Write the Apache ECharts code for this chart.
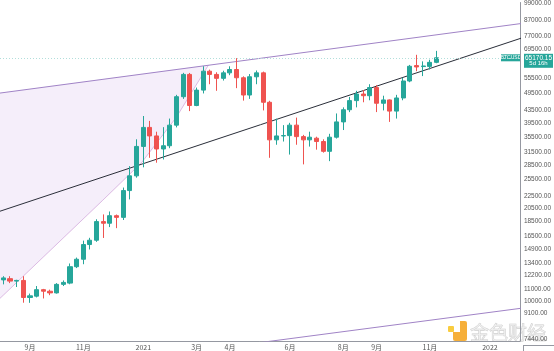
<!DOCTYPE html>
<html>
<head>
<meta charset="utf-8">
<script src="https://cdn.jsdelivr.net/npm/echarts@6/dist/echarts.min.js"></script>
<style>
  html, body { margin: 0; padding: 0; background: #fff; }
  #chart { width: 554px; height: 351px; }
</style>
</head>
<body>
<div id="chart"></div>
<script>
// BTCUSD weekly candles, first week starts 2020-08-10
const firstWeek = '2020-08-10';
const weekCount = 78; // includes empty weeks on the right side

const opens = [11790, 11900, 11680, 11740, 10294, 10403, 10935, 10804, 10666, 11390,
  11502, 13049, 13820, 15477, 16000, 18469, 18234, 19325, 19079, 23449,
  26262, 32940, 38138, 35713, 32300, 33115, 38807, 48308, 57343, 45134,
  50815, 58790, 57343, 55637, 58040, 59550, 55889, 48932, 56313, 58040,
  46273, 34650, 35713, 35800, 38807, 35525, 34650, 35098, 34208, 31720,
  35365, 39786, 43692, 46871, 49303, 48674, 51823, 45925, 47119, 43233,
  47836, 54513, 61376, 60915, 61000, 62926];
const closes = [11970, 11680, 11740, 10294, 10427, 10935, 10804, 10666, 11390, 11563,
  13049, 13820, 15477, 16000, 18469, 18234, 19325, 19079, 23449, 26262,
  32940, 38138, 35713, 32300, 33115, 38807, 48308, 57343, 45134, 50815,
  58790, 57343, 55637, 58040, 59550, 55889, 48932, 56313, 58040, 46273,
  34650, 35713, 35800, 38807, 35525, 34650, 35365, 34208, 31720, 35365,
  39786, 43692, 46871, 49303, 48674, 51823, 45925, 47119, 43233, 47836,
  54513, 61053, 60731, 61191, 62926, 65170.15];
const lows = [11390, 11500, 11160, 9890, 9880, 10300, 10217, 10480, 10610, 11245,
  11400, 12912, 13300, 14900, 15800, 16281, 17700, 17558, 18694, 21908,
  25900, 28045, 30177, 29059, 29792, 32500, 38138, 47500, 43233, 44900,
  49527, 53171, 50548, 54700, 57000, 51589, 46871, 47500, 53171, 43462,
  30177, 33366, 34208, 30939, 33366, 28688, 32900, 32130, 31400, 29412,
  35000, 37368, 42900, 44500, 46273, 47000, 42907, 43462, 39786, 40821,
  47000, 54000, 58790, 56612, 59550, 62500];
const highs = [12130, 12130, 11800, 12130, 10610, 11245, 11000, 10935, 11500, 11740,
  13378, 14000, 15952, 16300, 18800, 19516, 19963, 19500, 24000, 28300,
  34800, 41630, 40088, 36892, 38200, 40821, 49000, 58040, 58000, 51823,
  61053, 59500, 58300, 59000, 61053, 65002, 56500, 57500, 59102, 58600,
  46800, 40800, 38807, 39500, 41130, 36000, 36900, 35500, 34800, 36300,
  42455, 44500, 48200, 50548, 50815, 53171, 52800, 48674, 47300, 49000,
  55889, 61700, 66693, 63402, 64222, 68741];

// price scale labels
const priceTicks = [99000, 87000, 77000, 69500, 55500, 49500, 43500, 39500, 35500, 31500,
  28500, 25500, 22500, 20500, 18500, 16500, 14900, 13400, 12200, 11000, 10000, 9100, 7440];
// time scale labels
const tickWeeks = ['2020-09-07', '2020-11-02', '2021-01-04', '2021-03-01', '2021-04-05',
  '2021-06-07', '2021-08-02', '2021-09-06', '2021-11-01', '2022-01-03'];
const tickTexts = ['9月', '11月', '2021', '3月', '4月', '6月', '8月', '9月', '11月', '2022'];

const lastPrice = 65170.15;
const timeLeft = '5d 16h';

// drawings, as [week index, price]
const upperLine = [[-1, 49505], [79, 85613]];
const midLine = [[-1, 19832], [79, 77516]];
const lowerLine = [[30, 6870], [79, 9561]];
const arcLine = [[-1, 9990], [0.05, 10506], [7.45, 15096], [14.85, 21694], [20.77, 29124], [25.95, 41222], [30.77, 61609]];

// week labels
const weeks = [];
let d = new Date(firstWeek + 'T00:00:00Z');
for (let i = 0; i < weekCount; i++) {
  weeks.push(d.toISOString().slice(0, 10));
  d = new Date(d.getTime() + 7 * 24 * 3600 * 1000);
}

const candles = opens.map((o, i) => [o, closes[i], lows[i], highs[i]]);
const shade = [upperLine[0], arcLine[arcLine.length - 1]].concat(arcLine.slice().reverse());

const chart = echarts.init(document.getElementById('chart'));
chart.setOption({
  animation: false,
  backgroundColor: '#fff',
  grid: { left: -3.7, right: 30.7, top: 0, bottom: 6 },
  xAxis: [
    {
      type: 'category',
      data: weeks,
      boundaryGap: true,
      axisLine: { onZero: false, lineStyle: { color: '#9598a1', width: 1 } },
      axisTick: { show: false },
      axisLabel: {
        margin: 3,
        fontSize: 7,
        color: '#555',
        fontFamily: 'Noto Sans CJK SC',
        interval: (idx, val) => tickWeeks.indexOf(val) >= 0,
        formatter: (val) => tickTexts[tickWeeks.indexOf(val)] || ''
      },
      splitLine: { show: false }
    },
    { type: 'value', min: -0.5, max: weekCount - 0.5, show: false }
  ],
  yAxis: {
    type: 'log',
    position: 'right',
    min: 7365,
    max: 99750,
    axisLine: { show: true, onZero: false, lineStyle: { color: '#9598a1', width: 1 } },
    axisTick: { show: false },
    splitLine: { show: false },
    axisLabel: {
      customValues: priceTicks,
      margin: 4,
      fontSize: 6.5,
      color: '#555',
      fontFamily: 'Liberation Sans',
      formatter: (v) => Number(v).toFixed(2)
    }
  },
  series: [
    {
      type: 'custom',
      xAxisIndex: 1,
      data: [0],
      silent: true,
      z: 1,
      renderItem: (params, api) => ({
        type: 'polygon',
        shape: { points: shade.map(p => api.coord(p)) },
        style: { fill: 'rgba(225, 205, 240, 0.35)' }
      })
    },
    {
      type: 'line', xAxisIndex: 1, data: arcLine, symbol: 'none', z: 2,
      lineStyle: { color: '#d3a9dc', width: 0.8 }
    },
    {
      type: 'line', xAxisIndex: 1, data: upperLine, symbol: 'none', z: 2,
      lineStyle: { color: '#a083c6', width: 1 }
    },
    {
      type: 'line', xAxisIndex: 1, data: lowerLine, symbol: 'none', z: 2,
      lineStyle: { color: '#a083c6', width: 1 }
    },
    {
      type: 'line', xAxisIndex: 1, data: midLine, symbol: 'none', z: 2,
      lineStyle: { color: '#2a2e39', width: 1 }
    },
    {
      type: 'candlestick',
      data: candles,
      barWidth: '68%',
      z: 3,
      itemStyle: {
        color: '#26a69a', color0: '#ef5350',
        borderColor: '#26a69a', borderColor0: '#ef5350',
        borderWidth: 1
      },
      markLine: {
        silent: true,
        symbol: 'none',
        label: { show: false },
        lineStyle: { color: '#b2dfdb', type: [1, 2], width: 1 },
        data: [{ yAxis: lastPrice }]
      }
    }
  ]
});

// badges and watermark
const yLast = chart.convertToPixel({ yAxisIndex: 0 }, lastPrice);
chart.setOption({
  graphic: [
    { type: 'line', shape: { x1: 523.5, y1: 345, x2: 523.5, y2: 351 }, style: { stroke: '#9598a1', lineWidth: 1 } },
    { type: 'line', shape: { x1: 523, y1: 345.5, x2: 554, y2: 345.5 }, style: { stroke: '#9598a1', lineWidth: 1 } },
    {
      type: 'group', z: 50,
      children: [
        { type: 'rect', shape: { x: 524, y: yLast - 4, width: 29, height: 14 }, style: { fill: '#26a69a' } },
        { type: 'text', x: 538.5, y: yLast, style: { text: lastPrice.toFixed(2), fill: '#fff', font: '6.5px Liberation Sans', align: 'center', verticalAlign: 'middle' } },
        { type: 'text', x: 538.5, y: yLast + 6, style: { text: timeLeft, fill: '#fff', font: '6px Liberation Sans', align: 'center', verticalAlign: 'middle' } },
        { type: 'rect', shape: { x: 501, y: yLast - 3.5, width: 20, height: 7 }, style: { fill: '#26a69a' } },
        { type: 'text', x: 511, y: yLast, style: { text: 'BTCUSD', fill: '#fff', font: '5px Liberation Sans', align: 'center', verticalAlign: 'middle' } }
      ]
    },
    {
      type: 'group', z: 40,
      children: [
        { type: 'rect', shape: { x: 453, y: 321, width: 14, height: 20, r: 2 }, style: { fill: '#f5a623', opacity: 0.9 } },
        { type: 'rect', shape: { x: 453, y: 321, width: 7, height: 11 }, style: { fill: '#fff' } },
        { type: 'rect', shape: { x: 448, y: 326, width: 6, height: 6, r: 1 }, style: { fill: '#f8c62a', opacity: 0.9 } },
        { type: 'text', x: 470, y: 333, style: { text: '金色财经', fill: 'rgba(230,230,230,0.55)', stroke: 'rgba(170,170,170,0.6)', lineWidth: 0.6, font: '19px Noto Sans CJK SC', verticalAlign: 'middle' } }
      ]
    }
  ]
});
</script>
</body>
</html>
